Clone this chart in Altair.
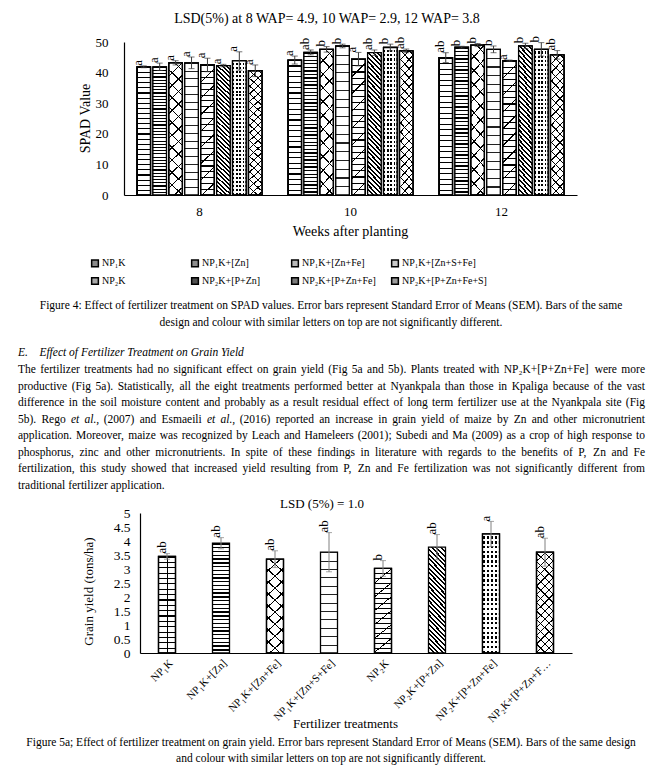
import altair as alt
import pandas as pd

# ---------------- data ----------------
treatments = ["NP₁K", "NP₁K+[Zn]", "NP₁K+[Zn+Fe]", "NP₁K+[Zn+S+Fe]",
              "NP₂K", "NP₂K+[P+Zn]", "NP₂K+[P+Zn+Fe]", "NP₂K+[P+Zn+Fe+S]"]
weeks = ["8", "10", "12"]

spad_w8 = [41.9, 41.9, 43.2, 43.2, 42.5, 42.3, 43.8, 40.6]
se_w8 = [0.3, 1.2, 0.7, 1.9, 2.2, 0.4, 3.0, 1.9]
let_w8 = ["a", "a", "a", "a", "a", "a", "a", "a"]
spad_w10 = [44.1, 46.6, 47.6, 48.7, 44.4, 46.5, 48.2, 47.1]
se_w10 = [1.3, 0.8, 0.9, 0.6, 2.2, 0.9, 1.1, 0.6]
let_w10 = ["a", "ab", "b", "b", "a", "ab", "b", "ab"]
spad_w12 = [44.9, 48.3, 49.0, 47.6, 43.9, 48.7, 47.6, 45.8]
se_w12 = [1.6, 0.3, 0.5, 1.1, 0.2, 0.9, 2.2, 1.4]
let_w12 = ["ab", "b", "b", "b", "a", "b", "b", "ab"]

yield_vals = [3.45, 3.92, 3.35, 3.60, 3.02, 3.78, 4.25, 3.60]
yield_se = [0.10, 0.20, 0.30, 0.70, 0.28, 0.45, 0.45, 0.50]
yield_let = ["ab", "ab", "ab", "ab", "b", "ab", "a", "ab"]

title1 = "LSD(5%) at 8 WAP= 4.9, 10 WAP= 2.9, 12 WAP= 3.8"
title2 = "LSD (5%) = 1.0"
caption4 = ("Figure 4: Effect of fertilizer treatment on SPAD values. Error bars represent Standard Error of Means (SEM). Bars of the same\n"
            "design and colour with similar letters on top are not significantly different.")
heading = "E.\u2003Effect of Fertilizer Treatment on Grain Yield"
paragraph = [
    "The fertilizer treatments had no significant effect on grain yield (Fig 5a and 5b). Plants treated with NP₂K+[P+Zn+Fe] were more",
    "productive (Fig 5a). Statistically, all the eight treatments performed better at Nyankpala than those in Kpaliga because of the vast",
    "difference in the soil moisture content and probably as a result residual effect of long term fertilizer use at the Nyankpala site (Fig",
    "5b). Rego et al., (2007) and Esmaeili et al., (2016) reported an increase in grain yield of maize by Zn and other micronutrient",
    "application. Moreover, maize was recognized by Leach and Hameleers (2001); Subedi and Ma (2009) as a crop of high response to",
    "phosphorus, zinc and other micronutrients. In spite of these findings in literature with regards to the benefits of P, Zn and Fe",
    "fertilization, this study showed that increased yield resulting from P, Zn and Fe fertilization was not significantly different from",
    "traditional fertilizer application.",
]
italic_words = ["et", "al.,"]
caption5 = ("Figure 5a; Effect of fertilizer treatment on grain yield. Error bars represent Standard Error of Means (SEM). Bars of the same design\n"
            "and colour with similar letters on top are not significantly different.")

# ---------------- tables ----------------
rows = []
for wk, vals, ses, lets in [("8", spad_w8, se_w8, let_w8),
                            ("10", spad_w10, se_w10, let_w10),
                            ("12", spad_w12, se_w12, let_w12)]:
    for t, v, s, l in zip(treatments, vals, ses, lets):
        rows.append({"week": wk, "treatment": t, "value": v, "lo": v - s, "hi": v + s, "letter": l})
df1 = pd.DataFrame(rows)
df2 = pd.DataFrame({"treatment": treatments, "value": yield_vals,
                    "lo": [v - s for v, s in zip(yield_vals, yield_se)],
                    "hi": [v + s for v, s in zip(yield_vals, yield_se)],
                    "letter": yield_let})

# ---------------- style ----------------
W, H = 647, 762
SERIF = "Liberation Serif, Times New Roman, serif"
greys = ["#8a8a8a", "#8c8c8c", "#b8b8b8", "#c8c8c8", "#a8a8a8", "#505050", "#7a7a7a", "#9c9c9c"]
CLEAR = "rgba(255,255,255,0)"


def stripes(n, frac, fg, bg, p1, p2):
    stops = []
    for i in range(n):
        a = round(i / n, 5)
        b = round((i + frac) / n, 5)
        c = round((i + 1) / n, 5)
        stops += [{"offset": a, "color": fg}, {"offset": b, "color": fg},
                  {"offset": b, "color": bg}, {"offset": c, "color": bg}]
    return {"gradient": "linear", "x1": p1[0], "y1": p1[1], "x2": p2[0], "y2": p2[1], "stops": stops}


def hs(n, frac, fg="black", bg="white"):
    return stripes(n, frac, fg, bg, (0, 0), (0, 1))


def vs(n, frac, fg="black", bg="white"):
    return stripes(n, frac, fg, bg, (0, 0), (1, 0))


def back(n, frac, aspect, fg="black", bg="white"):   # "\" lines
    return stripes(n, frac, fg, bg, (0, 1), (1.12 / aspect, 1 - 1.12))


def fwd(n, frac, aspect, fg="black", bg="white"):    # "/" lines
    return stripes(n, frac, fg, bg, (0, 0), (1.12 / aspect, 1.12))


def patterns(hgt, ext, aspect):
    def n_h(period):
        return max(4, round(hgt / period))

    def n_d(period):
        return max(4, round(ext / period))
    return [
        [hs(n_h(5.5), 0.22), vs(2, 0.08, "black", CLEAR)],
        [hs(n_h(3.4), 0.36)],
        [back(n_d(9), 0.12, aspect), fwd(n_d(9), 0.12, aspect, "black", CLEAR)],
        [hs(n_h(8), 0.13, "#222222")],
        [hs(n_h(6), 0.18), fwd(n_d(12), 0.08, aspect, "black", CLEAR)],
        [back(n_d(3.2), 0.45, aspect)],
        [vs(4, 0.5), hs(n_h(4), 0.5, "white", CLEAR)],
        [back(n_d(6), 0.15, aspect), fwd(n_d(6), 0.15, aspect, "black", CLEAR)],
    ]


pat1 = patterns(135, 108, 10)
pat2 = patterns(100, 82, 6)

color = alt.Color("treatment:N", sort=treatments,
                  scale=alt.Scale(domain=treatments, range=greys),
                  legend=alt.Legend(orient="none", legendX=82, legendY=250, columns=4,
                                    gridAlign="all", direction="horizontal", title=None,
                                    symbolType="square", symbolSize=45,
                                    symbolStrokeColor="black", symbolStrokeWidth=1.5,
                                    labelFont=SERIF, labelFontSize=10, labelColor="black",
                                    labelOffset=2, columnPadding=1, rowPadding=4))

# ---------------- chart 1 (SPAD) ----------------
x1 = alt.X("week:N", sort=weeks, title="Weeks after planting",
           scale=alt.Scale(domain=weeks, range=[116, 569], paddingInner=0.172, paddingOuter=0.086),
           axis=alt.Axis(orient="bottom", offset=187 - H, ticks=False, labelAngle=0,
                         labelFontSize=13, labelPadding=10, titleFontSize=14,
                         titleX=342, titleY=36, titleBaseline="middle"))
xo1 = alt.XOffset("treatment:N", sort=treatments, scale=alt.Scale(domain=treatments, paddingInner=0.15))
y1 = alt.Y("value:Q", title="SPAD Value",
           scale=alt.Scale(domain=[0, 50], range=[187, 34], nice=False),
           axis=alt.Axis(orient="left", offset=-116, values=[0, 10, 20, 30, 40, 50],
                         grid=False, ticks=False, labelFontSize=13, labelPadding=16,
                         titleFontSize=14, titleX=-39, titleY=110, titleBaseline="middle"))

base1 = alt.Chart(df1)
layers1 = [base1.mark_bar(stroke="black", strokeWidth=1.3).encode(x=x1, xOffset=xo1, y=y1, color=color)]
for t, fills in zip(treatments, pat1):
    for f in fills:
        layers1.append(base1.transform_filter(alt.datum.treatment == t)
                       .mark_bar(fill=f, stroke="black", strokeWidth=1.3)
                       .encode(x=x1, xOffset=xo1, y=y1))
layers1 += [
    base1.mark_rule(color="#3a3a3a", strokeWidth=1).encode(x=x1, xOffset=xo1, y="lo:Q", y2="hi:Q"),
    base1.mark_tick(color="#3a3a3a", size=6, thickness=1).encode(x=x1, xOffset=xo1, y="hi:Q"),
    base1.mark_tick(color="#3a3a3a", size=6, thickness=1).encode(x=x1, xOffset=xo1, y="lo:Q"),
    base1.mark_text(angle=270, align="left", baseline="middle", dy=-6, font=SERIF,
                    fontSize=13, color="black").encode(x=x1, xOffset=xo1, y="hi:Q", text="letter:N"),
]
chart1 = alt.layer(*layers1)

# ---------------- chart 2 (yield) ----------------
x2 = alt.X("treatment:N", sort=treatments, title="Fertilizer treatments",
           scale=alt.Scale(domain=treatments, range=[132, 564], paddingInner=0.685, paddingOuter=0.3425),
           axis=alt.Axis(orient="bottom", offset=645 - H, ticks=False, labelAngle=-45,
                         labelFontSize=11, labelPadding=4, titleFontSize=13,
                         labelExpr="datum.label == 'NP₂K+[P+Zn+Fe+S]' ? 'NP₂K+[P+Zn+F…' : datum.label",
                         titleX=337, titleY=70, titleBaseline="middle"))
y2 = alt.Y("value:Q", title="Grain yield (tons/ha)",
           scale=alt.Scale(domain=[0, 5], range=[645, 505], nice=False),
           axis=alt.Axis(orient="left", offset=-132, values=[0, 0.5, 1, 1.5, 2, 2.5, 3, 3.5, 4, 4.5, 5],
                         format="~g", grid=False, ticks=False, labelFontSize=13.5, labelPadding=10,
                         titleFontSize=13, titleX=-52, titleY=583, titleBaseline="middle"))
base2 = alt.Chart(df2)
layers2 = []
for t, fills in zip(treatments, pat2):
    for f in fills:
        layers2.append(base2.transform_filter(alt.datum.treatment == t)
                       .mark_bar(fill=f, stroke="black", strokeWidth=1.3)
                       .encode(x=x2, y=y2))
layers2 += [
    base2.mark_rule(color="#808080", strokeWidth=1).encode(x=x2, y="lo:Q", y2="hi:Q"),
    base2.mark_tick(color="#808080", size=6, thickness=1).encode(x=x2, y="hi:Q"),
    base2.mark_tick(color="#808080", size=6, thickness=1).encode(x=x2, y="lo:Q"),
    base2.mark_text(angle=270, align="left", baseline="middle", dy=-5, font=SERIF,
                    fontSize=13, color="black").encode(x=x2, y="hi:Q", text="letter:N"),
]
chart2 = alt.layer(*layers2)

# ---------------- justified paragraph (Times metrics, 1/1000 em) ----------------
TIMES = {" ": 250, "!": 333, "%": 833, "(": 333, ")": 333, "+": 564, ",": 250, "-": 333, ".": 250,
         ":": 278, ";": 278, "[": 333, "]": 333, "₂": 500, "₁": 500,
         "A": 722, "B": 667, "C": 667, "D": 722, "E": 611, "F": 556, "G": 722, "H": 722, "I": 333,
         "J": 389, "K": 722, "L": 611, "M": 889, "N": 722, "O": 722, "P": 556, "Q": 722, "R": 667,
         "S": 556, "T": 611, "U": 722, "V": 722, "W": 944, "X": 722, "Y": 722, "Z": 611,
         "a": 444, "b": 500, "c": 444, "d": 500, "e": 444, "f": 333, "g": 500, "h": 500, "i": 278,
         "j": 278, "k": 500, "l": 278, "m": 778, "n": 500, "o": 500, "p": 500, "q": 500, "r": 333,
         "s": 389, "t": 278, "u": 500, "v": 500, "w": 722, "x": 500, "y": 500, "z": 444}
FS = 11.5
X0, X1 = 10, 637
Y0, LH = 365, 16.5


def tw(s):
    return sum(TIMES.get(c, 500) for c in s) / 1000 * FS


words = []
for li, line in enumerate(paragraph):
    ws = line.split(" ")
    widths = [tw(w) for w in ws]
    if li < len(paragraph) - 1 and len(ws) > 1:
        gap = (X1 - X0 - sum(widths)) / (len(ws) - 1)
    else:
        gap = tw(" ")
    xx = X0
    for w, wd in zip(ws, widths):
        words.append({"word": w, "px": xx, "py": Y0 + li * LH, "italic": w in italic_words and li == 3})
        xx += wd + gap
dfw = pd.DataFrame(words)


def word_layer(sub, style):
    return alt.Chart(sub).mark_text(align="left", baseline="alphabetic", fontSize=FS, font=SERIF,
                                    fontStyle=style, color="black").encode(
        x=alt.X("px:Q", scale=None, axis=None), y=alt.Y("py:Q", scale=None, axis=None), text="word:N")


# ---------------- text blocks ----------------
def text_block(txt, x, y, size=11.5, align="left", style="normal", lh=16.5):
    return alt.Chart(pd.DataFrame({"t": [txt]})).mark_text(
        align=align, baseline="alphabetic", fontSize=size, font=SERIF, fontStyle=style,
        lineBreak="\n", lineHeight=lh, color="black"
    ).encode(x=alt.value(x), y=alt.value(y), text="t:N")


texts = [
    text_block(title1, 319, 14.5, size=14, align="center"),
    text_block(caption4, 323, 301, align="center", lh=16.5),
    text_block(heading, 10, 348, style="italic"),
    text_block(title2, 314, 499.5, size=13, align="center"),
    text_block(caption5, 323, 738, align="center", lh=15.5),
]

chart = alt.layer(chart1, chart2, word_layer(dfw[~dfw.italic], "normal"),
                  word_layer(dfw[dfw.italic], "italic"), *texts).resolve_scale(
    x="independent", y="independent"
).resolve_axis(x="independent", y="independent").properties(
    width=W, height=H, autosize=alt.AutoSizeParams(type="none"), padding=0
).configure_view(stroke=None).configure_axis(
    labelFont=SERIF, titleFont=SERIF, labelColor="black", titleColor="black",
    domainColor="black", domainWidth=1.2, titleFontWeight="normal"
)

chart.save("out.html", embed_options={"renderer": "svg", "actions": False})
